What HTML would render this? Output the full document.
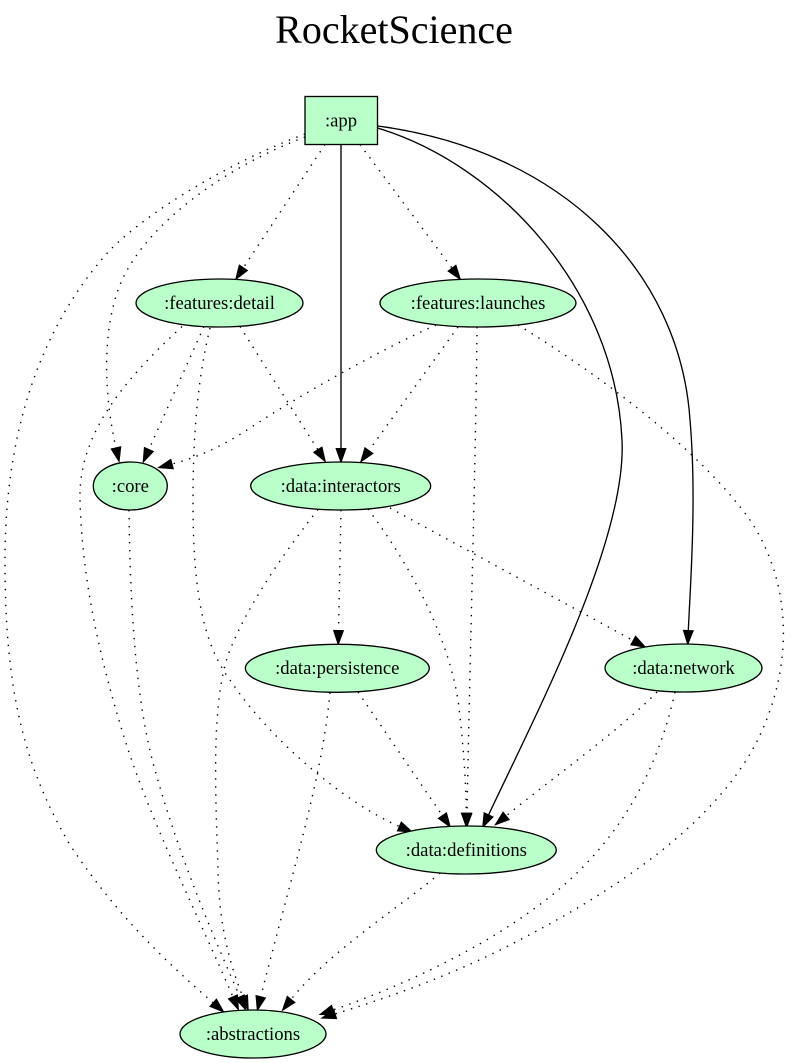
<!DOCTYPE html>
<html><head><meta charset="utf-8"><style>
html,body{margin:0;padding:0;background:#fff;}
svg{display:block;}
text{font-family:"Liberation Serif","Times New Roman",serif;}
</style></head><body>
<svg width="791" height="1063" viewBox="0 0 791 1063" xmlns="http://www.w3.org/2000/svg">
<defs>
<marker id="a" markerUnits="userSpaceOnUse" markerWidth="16" markerHeight="12" refX="0" refY="6" orient="auto" overflow="visible">
<path d="M0,1.33 L13.33,6 L0,10.67 z" fill="#000" stroke="#000" stroke-width="1.33" stroke-dasharray="none"/>
</marker>
</defs>
<rect width="791" height="1063" fill="#fff"/>
<text x="394" y="43" font-size="40" text-anchor="middle">RocketScience</text>

<g fill="none" stroke="#000" stroke-width="1.33">
<!-- solid edges -->
<path d="M341,144.5 L341,448.7" marker-end="url(#a)"/>
<path d="M377.5,128 C500,165 615,290 622,440 C627,540 535.5,715 488.5,815" marker-end="url(#a)"/>
<path d="M377.5,126 C560,150 680,270 690,420 C697,500 690,590 688.3,630.7" marker-end="url(#a)"/>
</g>
<g fill="none" stroke="#000" stroke-width="1.4" stroke-dasharray="1.4 6.6">
<path d="M325,144.5 L243.3,267.9" marker-end="url(#a)"/>
<path d="M360,144.5 L452.1,268.3" marker-end="url(#a)"/>
<path d="M305,137 C230,165 150,220 122,280 C100,330 105,400 116,448" marker-end="url(#a)"/>
<path d="M305,134 C230,162 150,210 110,250 C60,305 5,400 5,560 C5,680 20,760 70,845 C120,920 170,965 213.3,1002.9" marker-end="url(#a)"/>
<path d="M204,326.5 L148.8,449.6" marker-end="url(#a)"/>
<path d="M240,326.5 L317.9,449.8" marker-end="url(#a)"/>
<path d="M182,326.5 C130,375 78,430 80,500 C82,580 100,660 125,740 C150,820 200,920 233,997" marker-end="url(#a)"/>
<path d="M210,328 C200,370 193,420 193,500 C193,580 200,640 230,680 C270,740 345,803 399.5,826.5" marker-end="url(#a)"/>
<path d="M436,325 C380,350 300,395 250,428 C220,448 195,458 171.9,464.1" marker-end="url(#a)"/>
<path d="M458,327 L368.8,450.7" marker-end="url(#a)"/>
<path d="M477,327 C476,450 470,650 467,813.4" marker-end="url(#a)"/>
<path d="M518,325 C600,375 700,450 750,520 C790,580 795,660 760,735 C720,820 620,890 500,950 C440,980 380,1000 335,1014" marker-end="url(#a)"/>
<path d="M341,510 L338.5,630.7" marker-end="url(#a)"/>
<path d="M390,508 L633.3,640.6" marker-end="url(#a)"/>
<path d="M368,509 C395,545 445,620 458,700 C463,740 466,780 466.3,813.4" marker-end="url(#a)"/>
<path d="M318,509.5 C290,545 250,600 230,650 C210,700 216,800 218,870 C219,930 232,970 243,997" marker-end="url(#a)"/>
<path d="M129,510 C130,600 135,700 155,770 C180,860 215,940 240,997" marker-end="url(#a)"/>
<path d="M330,692.5 C322,780 290,880 260.7,996.9" marker-end="url(#a)"/>
<path d="M358,692 L442.5,815.7" marker-end="url(#a)"/>
<path d="M657,692 C620,730 550,780 506,816" marker-end="url(#a)"/>
<path d="M675,692 C660,760 630,820 580,870 C520,930 420,980 333,1010" marker-end="url(#a)"/>
<path d="M440,873 C410,900 330,950 291,999.5" marker-end="url(#a)"/>
</g>

<g fill="#baffc9" stroke="#000" stroke-width="1.33">
<rect x="305" y="96.5" width="72.5" height="48"/>
<ellipse cx="219.5" cy="303" rx="83.5" ry="24"/>
<ellipse cx="478" cy="303" rx="98" ry="24"/>
<ellipse cx="130.3" cy="486" rx="37" ry="24"/>
<ellipse cx="340.7" cy="486" rx="90" ry="24"/>
<ellipse cx="337.3" cy="668.3" rx="92" ry="24"/>
<ellipse cx="683.5" cy="668" rx="78.5" ry="24"/>
<ellipse cx="466.3" cy="850" rx="90" ry="24"/>
<ellipse cx="253" cy="1034" rx="73" ry="24"/>
</g>
<g font-size="18.67" text-anchor="middle" fill="#000">
<text x="341" y="126.3">:app</text>
<text x="219.5" y="308.8">:features:detail</text>
<text x="478" y="308.8">:features:launches</text>
<text x="130.3" y="491.8">:core</text>
<text x="340.7" y="491.8">:data:interactors</text>
<text x="337.3" y="674">:data:persistence</text>
<text x="683.5" y="673.8">:data:network</text>
<text x="466.3" y="855.8">:data:definitions</text>
<text x="253" y="1039.8">:abstractions</text>
</g>
</svg>
</body></html>
